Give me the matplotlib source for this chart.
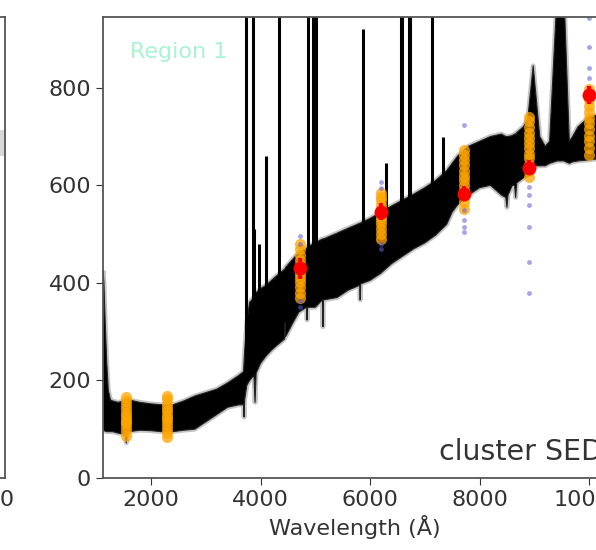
import matplotlib
matplotlib.use("Agg")
import matplotlib.pyplot as plt

# ---- continuum band of the model spectra ----
wave = [1125, 1140, 1160, 1190, 1220, 1260, 1300, 1400, 1500, 1540, 1550, 1560,
        1600, 1800, 2000, 2200, 2400, 2600, 2800, 3000, 3200, 3400, 3600, 3690,
        3700, 3710, 3750, 3800, 3880, 3900, 3920, 4000, 4100, 4200, 4300, 4440,
        4450, 4460, 4600, 4700, 4840, 4850, 4860, 5000, 5130, 5140, 5150, 5400,
        5600, 5810, 5820, 5830, 6000, 6200, 6400, 6600, 6800, 7000, 7200, 7400,
        7500, 7600, 7700, 7800, 8000, 8200, 8400, 8480, 8500, 8520, 8600, 8640,
        8660, 8680, 8800, 8880, 8980, 9100, 9200, 9280, 9420, 9480, 9540, 9640,
        9700, 9800, 10000, 10200, 10310]
flux_lo = [100, 98, 96, 95, 95, 95, 95, 92, 90, 88, 72, 90,
           95, 98, 97, 95, 95, 98, 100, 115, 130, 145, 150, 150,
           125, 160, 190, 200, 210, 155, 215, 235, 250, 262, 272, 285,
           318, 290, 320, 340, 350, 324, 350, 350, 365, 310, 365, 370,
           385, 395, 365, 398, 405, 420, 440, 455, 470, 482, 498, 520,
           545, 560, 570, 580, 595, 600, 580, 575, 555, 580, 600, 600,
           575, 605, 615, 620, 640, 640, 640, 645, 650, 650, 650, 645,
           648, 650, 652, 655, 655]
flux_hi = [425, 400, 330, 240, 180, 160, 158, 155, 158, 160, 160, 160,
           160, 155, 152, 150, 150, 158, 168, 175, 182, 195, 210, 218,
           240, 260, 320, 360, 370, 375, 380, 388, 395, 405, 415, 428,
           430, 432, 450, 462, 470, 472, 474, 482, 490, 490, 490, 502,
           512, 522, 522, 523, 532, 545, 558, 570, 582, 595, 610, 630,
           645, 660, 670, 680, 690, 700, 705, 700, 700, 700, 702, 705,
           705, 708, 720, 735, 845, 700, 680, 690, 1000, 1200, 1000, 690,
           700, 720, 740, 745, 745]

# ---- emission lines of the model spectra ----
line_wave = [3727, 3869, 3889, 3970, 4102, 4340, 4861, 4959, 5007, 5876, 6300,
             6563, 6583, 6716, 6731, 7135, 7325]
line_peak = [2000, 2000, 510, 480, 660, 2000, 2000, 2000, 2000, 920, 646,
             2000, 2000, 2000, 2000, 2000, 700]
line_base = [250, 300, 300, 300, 320, 350, 380, 380, 380, 450, 480,
             500, 500, 500, 500, 520, 540]

# ---- photometry ----
band_wave = [1540, 2300, 4720, 6200, 7720, 8900, 10000]
model_phot = [
    [86, 97, 104, 112, 115, 121, 128, 133, 141, 150, 158, 167],
    [84, 93, 101, 109, 117, 122, 130, 138, 144, 152, 161, 168],
    [368, 380, 392, 401, 410, 418, 427, 436, 447, 458, 470, 480],
    [490, 500, 511, 520, 528, 535, 543, 551, 560, 569, 577, 584],
    [552, 565, 578, 590, 600, 610, 620, 630, 641, 652, 663, 672],
    [618, 630, 642, 655, 665, 676, 686, 697, 708, 720, 731, 740],
    [662, 676, 690, 702, 715, 727, 738, 750, 762, 775, 788, 798],
]
obs_wave = [4720, 6200, 7720, 8900, 10000]
obs_flux = [430, 546, 583, 636, 785]
obs_err = [22, 18, 15, 15, 18]
draw_wave = [4720, 6200, 7720, 8900, 10000]
draw_flux = [
    [497, 480, 362, 350],
    [606, 595, 480, 470],
    [724, 550, 528, 515, 505],
    [596, 580, 560, 515, 443, 380],
    [943, 884, 840, 820],
]

fig = plt.figure(figsize=(5.96, 5.5), dpi=100)
W, H = 596, 550
ax_w = 503 / W
ax_b = (H - 478) / H
ax_h = 461 / H

spine_col = '#555555'
text_col = '#333333'

# neighbouring panel, mostly outside the picture
ax0 = fig.add_axes([(5 - 503) / W, ax_b, ax_w, ax_h])
ax0.fill_between([10380, 10480], [660, 660], [713, 713], color='grey', alpha=0.3, lw=0)
ax0.set_xlim(1123, 10480)
ax0.set_ylim(0, 945)
ax0.set_xticks([2000, 4000, 6000, 8000, 10000])
ax0.tick_params(labelsize=16, colors=text_col, length=5)

ax = fig.add_axes([103 / W, ax_b, ax_w, ax_h])
# soft grey halo of the many overlapping model spectra
ax.fill_between(wave, flux_lo, flux_hi, facecolor='none', edgecolor='grey',
                lw=3.5, alpha=0.45)
ax.fill_between(wave, flux_lo, flux_hi, color='black', lw=0.8, edgecolor='#222222')
ax.vlines(line_wave, line_base, line_peak, color='black', lw=2.2)

for w, vals in zip(band_wave, model_phot):
    ax.plot([w] * len(vals), vals, 'o', color='orange', ms=8, alpha=0.75, mew=0)
for w, vals in zip(draw_wave, draw_flux):
    ax.plot([w] * len(vals), vals, 'o', color='#5b5bd6', ms=3.5, alpha=0.55, mew=0)
ax.errorbar(obs_wave, obs_flux, yerr=obs_err, fmt='o', color='red', ms=10,
            elinewidth=3, capsize=0, mew=0)

ax.set_xlim(1123, 10310)
ax.set_ylim(0, 945)
ax.set_xticks([2000, 4000, 6000, 8000, 10000])
ax.set_yticks([0, 200, 400, 600, 800])
ax.tick_params(labelsize=16, colors=text_col, length=5)
ax.set_xlabel('Wavelength (Å)', fontsize=16, color=text_col)

ax.text(0.053, 0.925, 'Region 1', transform=ax.transAxes, fontsize=16,
        color='#a8f3d2', va='center', ha='left')
ax.text(0.668, 0.056, 'cluster SED', transform=ax.transAxes, fontsize=20.5,
        color=text_col, va='center', ha='left')

for a in (ax, ax0):
    for s in a.spines.values():
        s.set_color(spine_col)
        s.set_linewidth(1.3)

fig.savefig('out.png', dpi=100)
